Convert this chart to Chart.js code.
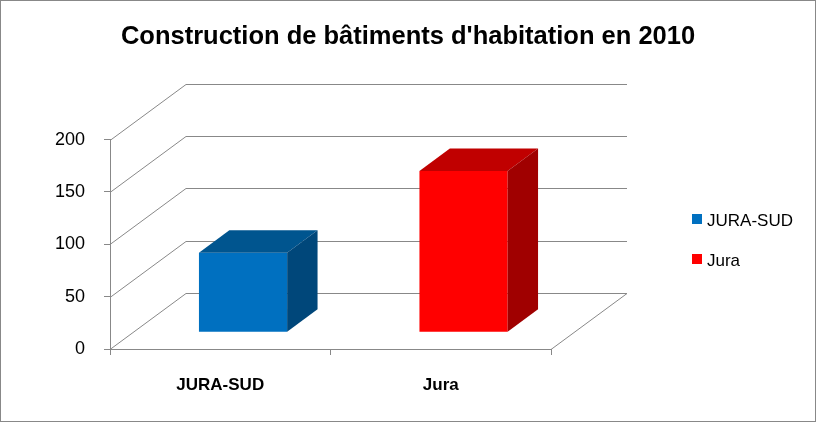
<!DOCTYPE html>
<html>
<head>
<meta charset="utf-8">
<script src="https://cdn.jsdelivr.net/npm/chart.js@4.4.1/dist/chart.umd.min.js"></script>
<style>
  html, body { margin: 0; padding: 0; background: #fff; }
  #wrap { width: 816px; height: 422px; position: relative; }
</style>
</head>
<body>
<div id="wrap"><canvas id="chart"></canvas></div>
<script>
const categories = ['JURA-SUD', 'Jura'];
const values = [76, 154];
const yTicks = [0, 50, 100, 150, 200];
const frontColors = ['#0070c0', '#ff0000'];
const topColors = ['#00558f', '#c00000'];
const sideColors = ['#00477a', '#a00000'];
const titleText = "Construction de bâtiments d'habitation en 2010";

const DEPTH = { dx: 76, dy: -56 };   // floor depth vector
const BAR_OFF = 0.30, BAR_DEPTH = 0.40;
const LINE = '#888888';
const FONT = "'Liberation Sans', Arial, sans-serif";

const box3d = {
  id: 'box3d',
  beforeDatasetsDraw(chart) {
    const { ctx, chartArea: a, scales: { y } } = chart;
    ctx.save();
    ctx.strokeStyle = LINE;
    ctx.lineWidth = 1;
    ctx.beginPath();
    yTicks.forEach(v => {
      const py = Math.round(y.getPixelForValue(v)) + 0.5;
      ctx.moveTo(a.left, py);
      ctx.lineTo(a.left + DEPTH.dx, py + DEPTH.dy);
      ctx.lineTo(a.right + DEPTH.dx, py + DEPTH.dy);
    });
    const p0 = Math.round(y.getPixelForValue(0)) + 0.5;
    ctx.moveTo(a.right, p0);
    ctx.lineTo(a.right + DEPTH.dx, p0 + DEPTH.dy);
    ctx.stroke();
    ctx.restore();
    // bars sit inside the box, a bit behind the front plane
    ctx.save();
    ctx.translate(DEPTH.dx * BAR_OFF, DEPTH.dy * BAR_OFF);
  },
  afterDatasetsDraw(chart) {
    const ctx = chart.ctx;
    const ddx = DEPTH.dx * BAR_DEPTH, ddy = DEPTH.dy * BAR_DEPTH;
    chart.getDatasetMeta(0).data.forEach((bar, i) => {
      const { x, y, base, width } = bar.getProps(['x', 'y', 'base', 'width'], true);
      const l = x - width / 2, r = x + width / 2;
      ctx.fillStyle = topColors[i];
      ctx.beginPath();
      ctx.moveTo(l, y); ctx.lineTo(r, y); ctx.lineTo(r + ddx, y + ddy); ctx.lineTo(l + ddx, y + ddy);
      ctx.closePath(); ctx.fill();
      ctx.fillStyle = sideColors[i];
      ctx.beginPath();
      ctx.moveTo(r, y); ctx.lineTo(r + ddx, y + ddy); ctx.lineTo(r + ddx, base + ddy); ctx.lineTo(r, base);
      ctx.closePath(); ctx.fill();
    });
    ctx.restore();
  },
  afterDraw(chart) {
    const ctx = chart.ctx;
    ctx.save();
    // legend
    ctx.font = `17px ${FONT}`;
    ctx.textBaseline = 'middle';
    categories.forEach((c, i) => {
      const cy = 220 + i * 40;
      ctx.fillStyle = frontColors[i];
      ctx.fillRect(692, cy - 6, 10, 10);
      ctx.fillStyle = '#000';
      ctx.fillText(c, 707, cy + 1);
    });
    // outer frame
    ctx.strokeStyle = LINE;
    ctx.lineWidth = 1;
    ctx.strokeRect(0.5, 0.5, chart.width - 1, chart.height - 1);
    ctx.restore();
  }
};

new Chart(document.getElementById('chart'), {
  type: 'bar',
  data: {
    labels: categories,
    datasets: [{
      data: values,
      backgroundColor: frontColors,
      borderWidth: 0,
      barPercentage: 0.4,
      categoryPercentage: 1,
      clip: false,
    }]
  },
  options: {
    responsive: true, maintainAspectRatio: false, animation: false,
    layout: { padding: 0 },
    plugins: {
      legend: { display: false },
      tooltip: { enabled: false },
      title: {
        display: true, text: titleText, color: '#000',
        font: { family: FONT, size: 25.5, weight: 'bold' },
        padding: { top: 22, bottom: 87 }
      }
    },
    scales: {
      x: {
        grid: { drawOnChartArea: false, tickLength: 6, color: LINE, offset: true },
        border: { color: LINE },
        ticks: { color: '#000', font: { family: FONT, size: 17, weight: 'bold' }, padding: 20 },
        afterFit: s => { s.height = 73; }
      },
      y: {
        min: 0, max: 200,
        ticks: { stepSize: 50, color: '#000', font: { family: FONT, size: 18 }, padding: 19 },
        grid: { drawOnChartArea: false, tickLength: 6, color: LINE },
        border: { color: LINE },
        afterFit: s => { s.width = 110; }
      },
      // empty space on the right for the depth and the legend
      side: {
        position: 'right', display: true,
        grid: { display: false }, border: { display: false }, ticks: { display: false },
        afterFit: s => { s.width = 265; }
      }
    }
  },
  plugins: [box3d]
});
</script>
</body>
</html>
